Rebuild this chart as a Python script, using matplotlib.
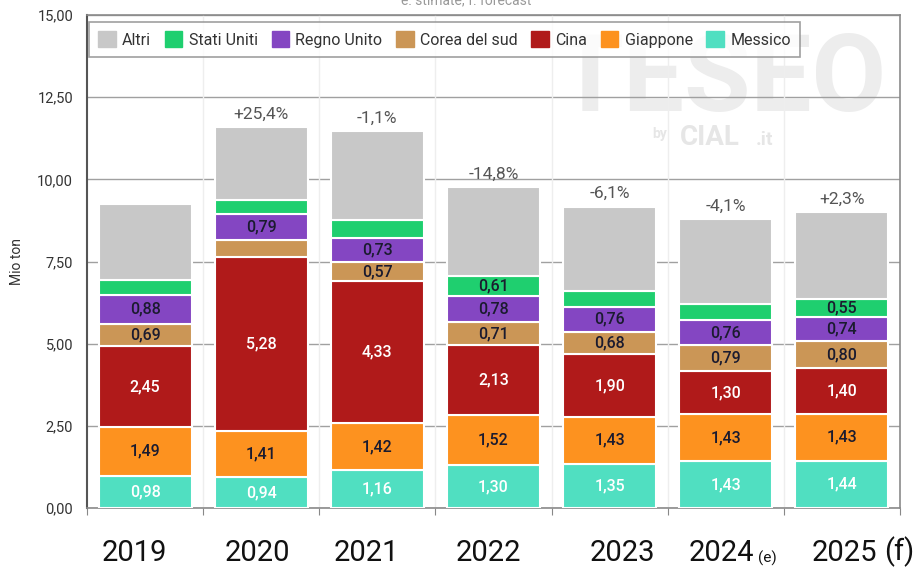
import matplotlib
matplotlib.use("Agg")
import matplotlib.pyplot as plt
from matplotlib.patches import Patch
from matplotlib.transforms import blended_transform_factory

# ---------------- data ----------------
years = ["2019", "2020", "2021", "2022", "2023", "2024", "2025"]
year_suffix = ["", "", "", "", "", "(e)", "(f)"]
series_names = ["Messico", "Giappone", "Cina", "Corea del sud", "Regno Unito", "Stati Uniti", "Altri"]
messico = [0.98, 0.94, 1.16, 1.30, 1.35, 1.43, 1.44]
giappone = [1.49, 1.41, 1.42, 1.52, 1.43, 1.43, 1.43]
cina = [2.45, 5.28, 4.33, 2.13, 1.90, 1.30, 1.40]
corea = [0.69, 0.52, 0.57, 0.71, 0.68, 0.79, 0.80]
regno_unito = [0.88, 0.79, 0.73, 0.78, 0.76, 0.76, 0.74]
stati_uniti = [0.44, 0.42, 0.54, 0.61, 0.48, 0.51, 0.55]
altri = [2.31, 2.22, 2.71, 2.71, 2.57, 2.57, 2.64]
# which segment values are printed on the chart
show_messico = [True] * 7
show_giappone = [True] * 7
show_cina = [True] * 7
show_corea = [True, False, True, True, True, True, True]
show_regno_unito = [True] * 7
show_stati_uniti = [False, False, False, True, False, False, True]
show_altri = [False] * 7
pct_change = ["", "+25,4%", "-1,1%", "-14,8%", "-6,1%", "-4,1%", "+2,3%"]
y_ticks = [0, 2.5, 5, 7.5, 10, 12.5, 15]

series = [messico, giappone, cina, corea, regno_unito, stati_uniti, altri]
shows = [show_messico, show_giappone, show_cina, show_corea, show_regno_unito,
         show_stati_uniti, show_altri]
colors = ["#50dfc1", "#fd921f", "#b01a1a", "#cb9656", "#8446c2", "#1fcf6f", "#c8c8c8"]
label_colors = ["white", "#1b1b2f", "white", "#1b1b2f", "#1b1b2f", "#1b1b2f", "#1b1b2f"]

FONT = ["Roboto", "DejaVu Sans"]
plt.rcParams["font.family"] = FONT

fig = plt.figure(figsize=(9.23, 5.67), dpi=100)
ax = fig.add_axes([87 / 923, 1 - 508 / 567, (900 - 87) / 923, (508 - 15) / 567])

x = list(range(len(years)))
bottoms = [0.0] * len(years)
for vals, show, col, lcol in zip(series, shows, colors, label_colors):
    ax.bar(x, vals, width=0.8, bottom=bottoms, color=col,
           edgecolor="white", linewidth=1.5, zorder=3)
    for i, (b, v, s) in enumerate(zip(bottoms, vals, show)):
        if s:
            ax.text(i, b + v / 2, f"{v:.2f}".replace(".", ","), ha="center", va="center",
                    fontsize=11.5, color=lcol, fontweight="medium", zorder=4)
    bottoms = [b + v for b, v in zip(bottoms, vals)]

for i, (tot, p) in enumerate(zip(bottoms, pct_change)):
    if p:
        ax.annotate(p, xy=(i, tot), xytext=(0, 4), textcoords="offset points",
                    ha="center", va="bottom", fontsize=12.5, color="#555555", zorder=4)

ax.set_xlim(-0.5, len(years) - 0.5)
ax.set_ylim(0, 15)
ax.set_yticks(y_ticks)
ax.set_yticklabels([f"{t:.2f}".replace(".", ",") for t in y_ticks], fontsize=10.5, color="#333333")
ax.tick_params(axis="y", length=0, pad=10)
ax.set_xticks([i - 0.5 for i in range(len(years) + 1)])
ax.set_xticklabels([])
ax.tick_params(axis="x", length=5, color="#888888")
ax.grid(axis="y", color="#a0a0a0", linewidth=1, zorder=1)
for b in range(1, len(years)):
    ax.axvline(b - 0.5, color="#eeeeee", linewidth=1, zorder=0.8)
ax.set_axisbelow(True)
for side in ["top", "right", "bottom"]:
    ax.spines[side].set_color("#8a8a8a")
    ax.spines[side].set_linewidth(1.2)
ax.spines["left"].set_color("#555555")
ax.spines["left"].set_linewidth(1.5)
ax.set_ylabel("Mio ton", fontsize=10, color="#333333")
ax.yaxis.set_label_coords(-0.077, 0.5)

# year labels
trans = blended_transform_factory(ax.transData, ax.transAxes)
x_off = [-0.095, -0.03, -0.095, -0.04, 0.11, -0.04, 0.02]
for i, (yr, suf) in enumerate(zip(years, year_suffix)):
    t = ax.text(i + x_off[i], -0.108, yr, transform=trans, ha="center", va="baseline",
                fontsize=21, fontweight="normal", color="#111111")
    if suf:
        fs = 11 if suf == "(e)" else 21
        ax.annotate(suf, xy=(1, 0), xycoords=t, xytext=(3 if fs == 11 else 5, 0 if fs == 21 else 1),
                    textcoords="offset points", ha="left", va="bottom",
                    fontsize=fs, fontweight="normal", color="#111111")

# legend (order as in reference)
order = [6, 5, 4, 3, 2, 1, 0]
handles = [Patch(facecolor=colors[k], edgecolor=colors[k]) for k in order]
labels = [series_names[k] for k in order]
leg = ax.legend(handles, labels, ncol=7, loc="upper left", bbox_to_anchor=(0.002, 0.986),
                borderaxespad=0, frameon=True, fancybox=False, fontsize=11.5,
                handlelength=1.1, handleheight=1.1, handletextpad=0.4, columnspacing=0.85,
                borderpad=0.6)
leg.get_frame().set_edgecolor("#888888")
leg.get_frame().set_linewidth(1.2)
for txt in leg.get_texts():
    txt.set_color("#333333")
leg.set_zorder(5)

# watermark
ax.text(0.781, 0.866, "TESEO", transform=ax.transAxes, ha="center", va="center",
        fontsize=78, fontweight="bold", color="#ededed", zorder=0.5)
ax.text(0.713, 0.773, "by", transform=ax.transAxes, ha="right", va="top",
        fontsize=10, fontweight="bold", color="#e6e6e6", zorder=0.5)
ax.text(0.729, 0.736, "CIAL", transform=ax.transAxes, ha="left", va="baseline",
        fontsize=20, fontweight="bold", color="#e6e6e6", zorder=0.5)
ax.text(0.822, 0.736, ".it", transform=ax.transAxes, ha="left", va="baseline",
        fontsize=14, fontweight="bold", color="#e6e6e6", zorder=0.5)

fig.text(0.505, 1.0, "e: stimate, f: forecast", ha="center", va="center",
         fontsize=10, color="#999999")

fig.savefig("out.png", dpi=100)
